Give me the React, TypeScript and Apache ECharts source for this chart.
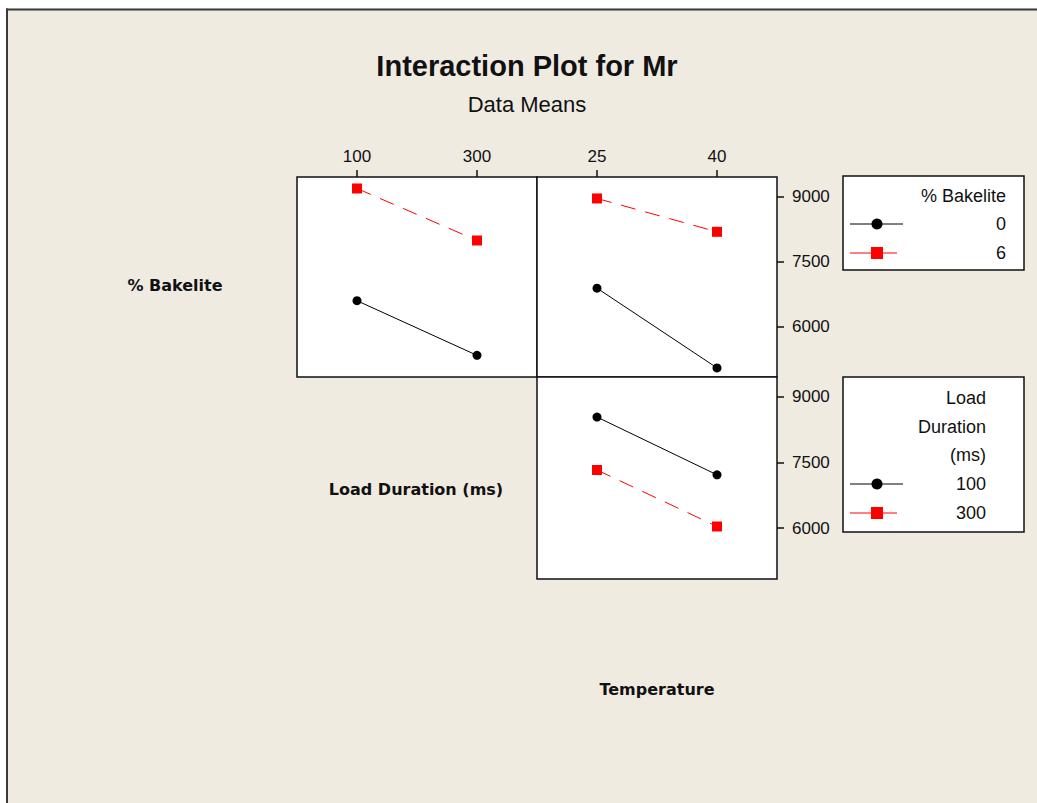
import React, { useEffect, useRef } from "react";
import * as echarts from "echarts";

// Factor levels
const loadDurations = ["100", "300"];
const temperatures = ["25", "40"];
const bakeliteLevels = ["0", "6"];
const loadLevels = ["100", "300"];

// Mean Mr for each % Bakelite level across Load Duration (ms)
const bake0ByLoad = [6600, 5340];
const bake6ByLoad = [9190, 7990];
// Mean Mr for each % Bakelite level across Temperature
const bake0ByTemp = [6890, 5050];
const bake6ByTemp = [8960, 8190];
// Mean Mr for each Load Duration across Temperature
const load100ByTemp = [8540, 7220];
const load300ByTemp = [7330, 6040];

// Response axis
const yTicks = [6000, 7500, 9000];
const yMin = 4840;
const yMax = 9455;

const BG = "#efebe1";
const INK = "#111111";
const TICK_FONT = "'Liberation Sans Narrow', 'Liberation Sans', Arial, sans-serif";
const TEXT_FONT = "'Liberation Sans', Arial, sans-serif";
const BOLD_FONT = "'DejaVu Sans', Verdana, sans-serif";

const levelStyles = [
  { color: "#000000", symbol: "circle", size: 9, dash: "solid" as any },
  { color: "#ff0000", symbol: "rect", size: 10, dash: [15, 10] as any },
];

function lineSeries(data: number[], level: number, xi: number, yi: number, name: string) {
  const s = levelStyles[level];
  return {
    type: "line",
    name,
    xAxisIndex: xi,
    yAxisIndex: yi,
    data,
    symbol: s.symbol,
    symbolSize: s.size,
    showSymbol: true,
    itemStyle: { color: s.color },
    lineStyle: { color: s.color, width: 1, type: s.dash },
    z: 3,
  };
}

function panelGrid(left: number, top: number, width: number, height: number) {
  return {
    left,
    top,
    width,
    height,
    show: true,
    backgroundColor: "#ffffff",
    borderColor: INK,
    borderWidth: 1.5,
  };
}

function topCategoryAxis(gridIndex: number, data: string[], showLabels: boolean) {
  return {
    gridIndex,
    type: "category",
    data,
    position: "top",
    boundaryGap: true,
    axisLine: { show: false },
    axisTick: {
      show: showLabels,
      alignWithLabel: true,
      length: 7,
      lineStyle: { color: INK, width: 1.5 },
    },
    axisLabel: {
      show: showLabels,
      margin: 12,
      fontSize: 17,
      color: INK,
      fontFamily: TICK_FONT,
    },
    splitLine: { show: false },
  };
}

function rightValueAxis(gridIndex: number, showLabels: boolean) {
  return {
    gridIndex,
    type: "value",
    min: yMin,
    max: yMax,
    position: "right",
    axisLine: { show: false },
    axisTick: {
      show: showLabels,
      length: 7,
      customValues: yTicks,
      lineStyle: { color: INK, width: 1.5 },
    },
    axisLabel: {
      show: showLabels,
      customValues: yTicks,
      formatter: (v: number) => String(v),
      margin: 15,
      fontSize: 17,
      color: INK,
      fontFamily: TICK_FONT,
    },
    splitLine: { show: false },
  };
}

function legendBox(
  x: number,
  y: number,
  w: number,
  h: number,
  titleLines: string[],
  titleYs: number[],
  labels: string[],
  labelYs: number[],
  textRight: number
) {
  const els: any[] = [
    {
      type: "rect",
      shape: { x, y, width: w, height: h },
      style: { fill: "#ffffff", stroke: INK, lineWidth: 1.5 },
    },
  ];
  titleLines.forEach((t, i) => {
    els.push({
      type: "text",
      x: textRight,
      y: titleYs[i],
      style: {
        text: t,
        fill: INK,
        font: `18px ${TEXT_FONT}`,
        textAlign: "right",
        textVerticalAlign: "middle",
      },
    });
  });
  labels.forEach((t, i) => {
    const s = levelStyles[i];
    const ly = labelYs[i];
    const lineEnd = i === 0 ? 903 : 897;
    els.push({
      type: "line",
      shape: { x1: 850, y1: ly, x2: lineEnd, y2: ly },
      style: { stroke: s.color, lineWidth: 1 },
    });
    if (s.symbol === "circle") {
      els.push({
        type: "circle",
        shape: { cx: 877, cy: ly, r: 5.5 },
        style: { fill: s.color },
      });
    } else {
      els.push({
        type: "rect",
        shape: { x: 871, y: ly - 6, width: 12, height: 12 },
        style: { fill: s.color },
      });
    }
    els.push({
      type: "text",
      x: textRight,
      y: ly,
      style: {
        text: t,
        fill: INK,
        font: `18px ${TEXT_FONT}`,
        textAlign: "right",
        textVerticalAlign: "middle",
      },
    });
  });
  return els;
}

export default function App() {
  const ref = useRef<HTMLDivElement>(null);

  useEffect(() => {
    document.body.style.margin = "0";
    if (!ref.current) return;
    const chart = echarts.init(ref.current, undefined, { renderer: "svg" });

    const frame = "#3a3a3a";
    const graphic: any[] = [
      // page edge and frame
      { type: "rect", shape: { x: 0, y: 0, width: 1037, height: 8.5 }, style: { fill: "#ffffff" } },
      { type: "rect", shape: { x: 0, y: 0, width: 6, height: 803 }, style: { fill: "#ffffff" } },
      { type: "line", shape: { x1: 6, y1: 9.5, x2: 1037, y2: 9.5 }, style: { stroke: frame, lineWidth: 2 } },
      { type: "line", shape: { x1: 7, y1: 8.5, x2: 7, y2: 803 }, style: { stroke: frame, lineWidth: 2 } },
      // titles
      {
        type: "text",
        x: 527,
        y: 66,
        style: {
          text: "Interaction Plot for Mr",
          fill: INK,
          font: `bold 29px ${TEXT_FONT}`,
          textAlign: "center",
          textVerticalAlign: "middle",
        },
      },
      {
        type: "text",
        x: 527,
        y: 104,
        style: {
          text: "Data Means",
          fill: INK,
          font: `22px ${TEXT_FONT}`,
          textAlign: "center",
          textVerticalAlign: "middle",
        },
      },
      // factor names on the diagonal
      {
        type: "text",
        x: 175,
        y: 285,
        style: {
          text: "% Bakelite",
          fill: INK,
          font: `bold 16px ${BOLD_FONT}`,
          textAlign: "center",
          textVerticalAlign: "middle",
        },
      },
      {
        type: "text",
        x: 416,
        y: 489,
        style: {
          text: "Load Duration (ms)",
          fill: INK,
          font: `bold 16px ${BOLD_FONT}`,
          textAlign: "center",
          textVerticalAlign: "middle",
        },
      },
      {
        type: "text",
        x: 657,
        y: 689,
        style: {
          text: "Temperature",
          fill: INK,
          font: `bold 16px ${BOLD_FONT}`,
          textAlign: "center",
          textVerticalAlign: "middle",
        },
      },
      ...legendBox(843, 176, 181, 94, ["% Bakelite"], [196], bakeliteLevels, [224, 253], 1006),
      ...legendBox(
        843,
        377,
        181,
        155,
        ["Load", "Duration", "(ms)"],
        [398, 427, 455],
        loadLevels,
        [484, 513],
        986
      ),
    ];

    chart.setOption({
      animation: false,
      backgroundColor: BG,
      grid: [
        panelGrid(297, 177, 240, 200),
        panelGrid(537, 177, 240, 200),
        panelGrid(537, 377, 240, 202),
      ],
      xAxis: [
        topCategoryAxis(0, loadDurations, true),
        topCategoryAxis(1, temperatures, true),
        topCategoryAxis(2, temperatures, false),
      ],
      yAxis: [
        { ...rightValueAxis(0, false), show: false },
        rightValueAxis(1, true),
        rightValueAxis(2, true),
      ],
      series: [
        lineSeries(bake0ByLoad, 0, 0, 0, "% Bakelite 0"),
        lineSeries(bake6ByLoad, 1, 0, 0, "% Bakelite 6"),
        lineSeries(bake0ByTemp, 0, 1, 1, "% Bakelite 0"),
        lineSeries(bake6ByTemp, 1, 1, 1, "% Bakelite 6"),
        lineSeries(load100ByTemp, 0, 2, 2, "Load Duration 100"),
        lineSeries(load300ByTemp, 1, 2, 2, "Load Duration 300"),
      ],
      graphic,
    });

    return () => chart.dispose();
  }, []);

  return <div ref={ref} style={{ width: 1037, height: 803 }} />;
}
